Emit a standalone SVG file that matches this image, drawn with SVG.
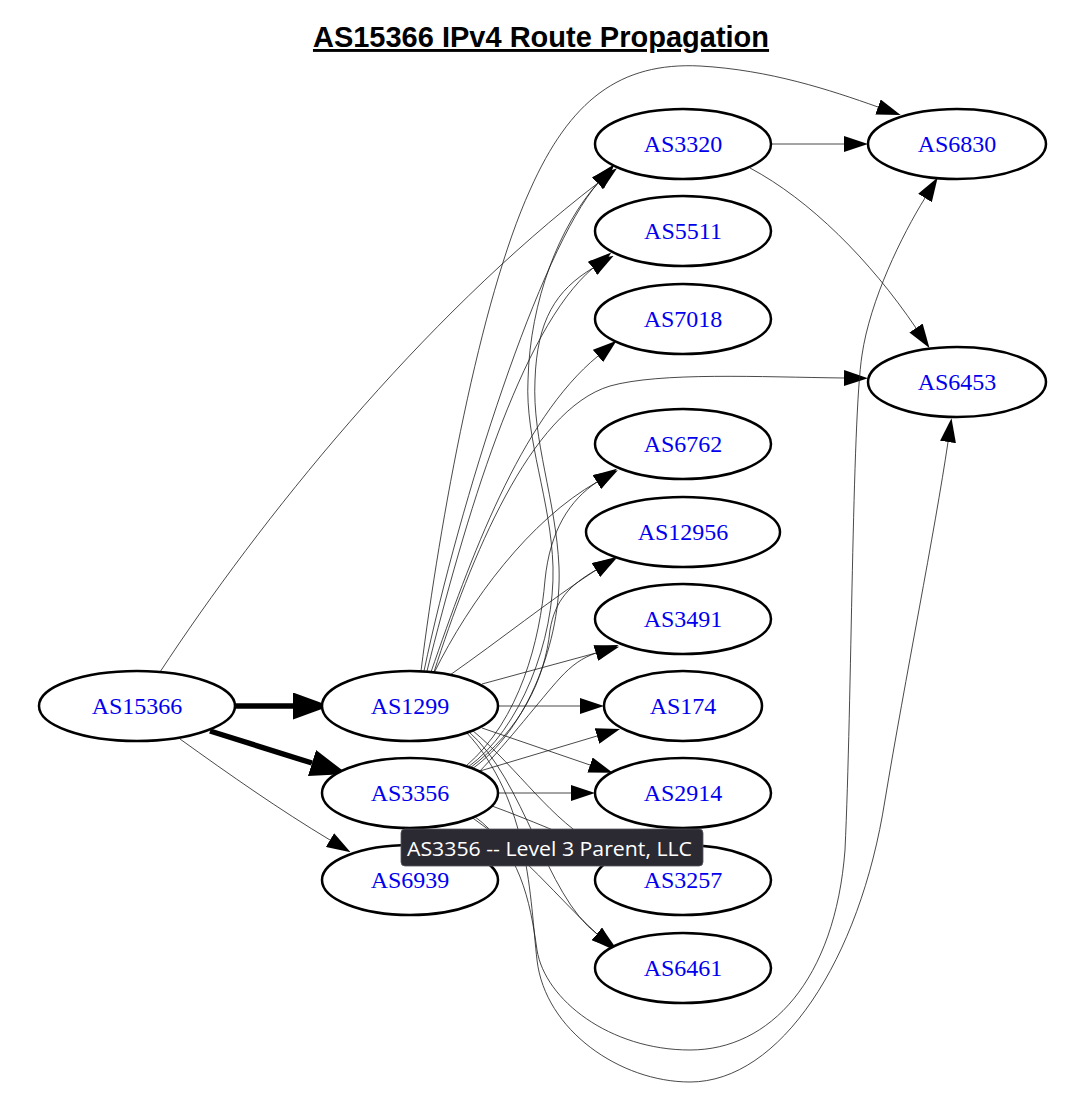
<svg xmlns="http://www.w3.org/2000/svg" width="1074" height="1098" viewBox="0 0 1074 1098">
<style>
.edge{fill:none;stroke:#1a1a1a;stroke-width:0.8;marker-end:url(#ah)}
.thick{fill:none;stroke:#000;stroke-width:5.5;marker-end:url(#ahb)}
.node ellipse{fill:#fff;stroke:#000;stroke-width:2.5}
.node text{font-family:"Liberation Serif","Times New Roman",serif;font-size:24px;fill:#0000ee;text-anchor:middle}
.title{font-family:"Liberation Sans",Arial,sans-serif;font-size:29px;font-weight:bold;text-anchor:middle;text-decoration:underline;fill:#000}
.tip text{font-family:"Open Sans","Noto Sans",sans-serif;font-size:20px;fill:#fff}
</style>
<defs>
<marker id="ah" markerUnits="userSpaceOnUse" markerWidth="24" markerHeight="16" refX="0" refY="8" orient="auto"><path d="M0,0 L24,8 L0,16 z" fill="#000"/></marker>
<marker id="ahb" markerUnits="userSpaceOnUse" markerWidth="37" markerHeight="27" refX="0" refY="13.5" orient="auto"><path d="M0,0 L37,13.5 L0,27 z" fill="#000"/></marker>
</defs>
<rect width="1074" height="1098" fill="#fff"/>
<text class="title" x="541" y="47">AS15366 IPv4 Route Propagation</text>
<g id="edges">
<path class="thick" d="M235,706 L293,706"/>
<path class="thick" d="M210,731 L312,763"/>
<path class="edge" d="M180,739 C230,775 280,810 330,840"/>
<path class="edge" d="M160,672 C260,520 420,320 598,183"/>
<path class="edge" d="M424,671 C460,500 540,250 598,183"/>
<path class="edge" d="M427,671 C465,520 520,330 593,268"/>
<path class="edge" d="M431,672 C470,560 520,420 598,356"/>
<path class="edge" d="M434,672 C470,560 530,410 610,386 C660,372 760,377 844,378"/>
<path class="edge" d="M434,673 C470,600 530,520 597,482"/>
<path class="edge" d="M450,675 C500,640 550,600 596,570"/>
<path class="edge" d="M482,684 L596,653"/>
<path class="edge" d="M498,706 L580,706"/>
<path class="edge" d="M482,728 L590,765"/>
<path class="edge" d="M472,730 C520,770 550,820 600,847"/>
<path class="edge" d="M468,731 C525,780 545,895 597,934"/>
<path class="edge" d="M421,671 C440,520 480,300 530,190 C570,100 620,62 700,66 C770,70 830,90 878,107"/>
<path class="edge" d="M466,732 C530,800 530,900 537,960 C545,1030 620,1082 690,1082 C780,1082 860,960 885,800 C905,680 935,530 948,442"/>
<path class="edge" d="M468,767 C520,730 555,640 553,567 C551,500 525,440 528,380 C530,300 560,225 598,183"/>
<path class="edge" d="M472,769 C527,730 562,640 559,567 C556,500 532,440 535,380 C537,320 556,290 593,268"/>
<path class="edge" d="M466,766 C520,720 540,640 545,580 C550,530 570,500 597,482"/>
<path class="edge" d="M470,768 C520,730 545,680 550,630 C555,600 570,585 596,570"/>
<path class="edge" d="M478,773 C510,740 540,700 560,678 C572,665 582,658 596,653"/>
<path class="edge" d="M480,771 L597,736"/>
<path class="edge" d="M498,793 L571,793"/>
<path class="edge" d="M492,806 C530,820 565,835 600,850"/>
<path class="edge" d="M470,816 C520,850 560,900 597,934"/>
<path class="edge" d="M474,816 C520,850 530,900 537,950 C545,1000 610,1050 690,1050 C770,1050 835,980 845,850 C852,700 852,420 862,355 C870,300 902,235 925,198"/>
<path class="edge" d="M771,144 L844,144"/>
<path class="edge" d="M750,168 C810,200 870,260 916,328"/>
</g>
<g id="AS15366" class="node"><ellipse cx="137" cy="706" rx="98" ry="35"/><text x="137" y="714">AS15366</text></g>
<g id="AS1299" class="node"><ellipse cx="410" cy="706" rx="88" ry="35"/><text x="410" y="714">AS1299</text></g>
<g id="AS3356" class="node"><ellipse cx="410" cy="793" rx="88" ry="35"/><text x="410" y="801">AS3356</text></g>
<g id="AS6939" class="node"><ellipse cx="410" cy="880" rx="88" ry="35"/><text x="410" y="888">AS6939</text></g>
<g id="AS3320" class="node"><ellipse cx="683" cy="144" rx="88" ry="35"/><text x="683" y="152">AS3320</text></g>
<g id="AS5511" class="node"><ellipse cx="683" cy="231" rx="88" ry="35"/><text x="683" y="239">AS5511</text></g>
<g id="AS7018" class="node"><ellipse cx="683" cy="319" rx="88" ry="35"/><text x="683" y="327">AS7018</text></g>
<g id="AS6762" class="node"><ellipse cx="683" cy="444" rx="88" ry="35"/><text x="683" y="452">AS6762</text></g>
<g id="AS12956" class="node"><ellipse cx="683" cy="532" rx="97" ry="35"/><text x="683" y="540">AS12956</text></g>
<g id="AS3491" class="node"><ellipse cx="683" cy="619" rx="88" ry="35"/><text x="683" y="627">AS3491</text></g>
<g id="AS174" class="node"><ellipse cx="683" cy="706" rx="79" ry="35"/><text x="683" y="714">AS174</text></g>
<g id="AS2914" class="node"><ellipse cx="683" cy="793" rx="88" ry="35"/><text x="683" y="801">AS2914</text></g>
<g id="AS3257" class="node"><ellipse cx="683" cy="880" rx="88" ry="35"/><text x="683" y="888">AS3257</text></g>
<g id="AS6461" class="node"><ellipse cx="683" cy="968" rx="88" ry="35"/><text x="683" y="976">AS6461</text></g>
<g id="AS6830" class="node"><ellipse cx="957" cy="144" rx="89" ry="35"/><text x="957" y="152">AS6830</text></g>
<g id="AS6453" class="node"><ellipse cx="957" cy="382" rx="89" ry="35"/><text x="957" y="390">AS6453</text></g>
<g id="tooltip" class="tip"><rect x="401" y="829" width="302" height="37" rx="4" fill="#2b2a33" stroke="#55555f" stroke-width="0.8"/><text x="407" y="856" textLength="285" lengthAdjust="spacingAndGlyphs">AS3356 -- Level 3 Parent, LLC</text></g>
</svg>
